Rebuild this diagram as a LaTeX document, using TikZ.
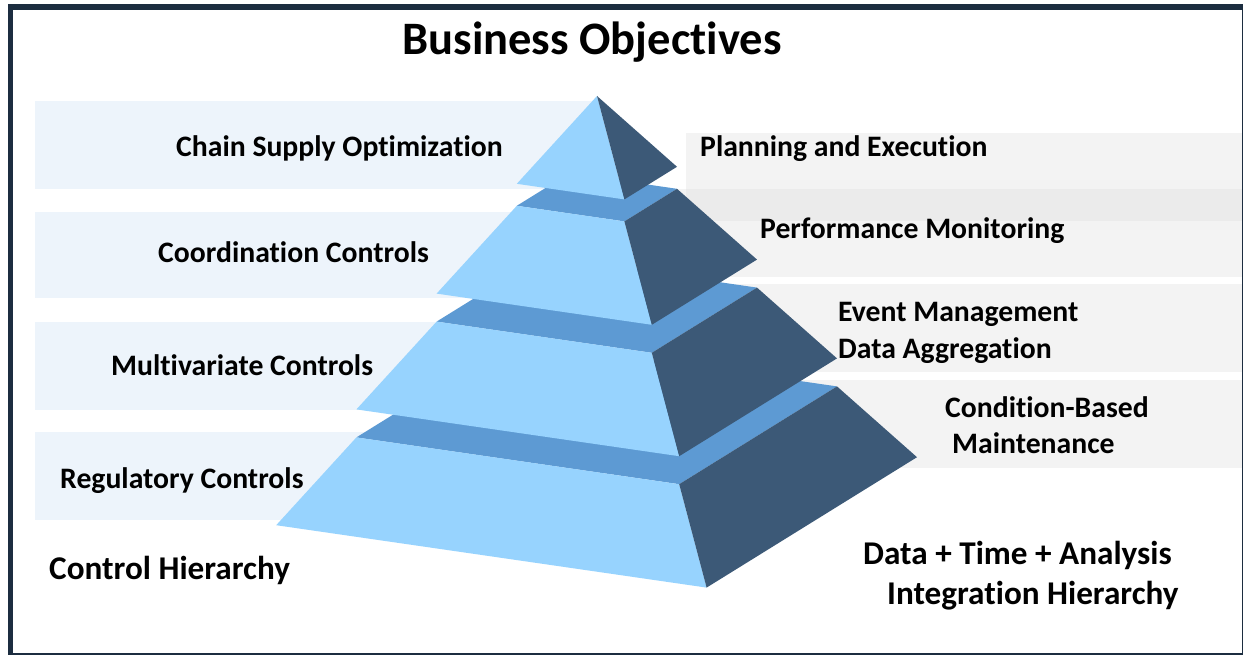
\documentclass[tikz,border=0pt]{standalone}
\usepackage{fontspec}
\setmainfont{Carlito}[Ligatures=NoCommon]
\definecolor{frameNavy}{HTML}{1C2D40}
\definecolor{faceFront}{HTML}{97D3FE}
\definecolor{faceSide}{HTML}{3C5977}
\definecolor{faceLedge}{HTML}{5D9AD3}
\definecolor{bandBlue}{HTML}{EDF4FB}
\definecolor{bandGray}{HTML}{F3F3F3}
\definecolor{bandOverlap}{HTML}{EBEBEB}
\begin{document}
\begin{tikzpicture}[x=1pt,y=-1pt,
  lbl/.style={inner sep=0pt, anchor=base west, font=\fontsize{29.7}{30}\selectfont\bfseries},
  biglbl/.style={lbl, font=\fontsize{33.2}{34}\selectfont\bfseries},
  ttl/.style={inner sep=0pt, anchor=base, font=\fontsize{46.5}{47}\selectfont\bfseries},
  front/.style={fill=faceFront},
  side/.style={fill=faceSide},
  ledge/.style={fill=faceLedge}]
\useasboundingbox (0,0) rectangle (1243,655);

% frame
\fill[frameNavy] (8,4) rectangle (1243,655);
\fill[white] (13,10) rectangle (1241.5,652.5);

% background bands, left column
\fill[bandBlue] (35,101) rectangle (600,189);
\fill[bandBlue] (35,212) rectangle (600,298);
\fill[bandBlue] (35,322) rectangle (600,410);
\fill[bandBlue] (35,432) rectangle (600,520);

% background bands, right column
\fill[bandGray] (686,133) rectangle (1241.5,221);
\fill[bandGray] (620,189) rectangle (1241.5,277);
\fill[bandOverlap] (686,189) rectangle (1241.5,221);
\fill[bandGray] (620,284) rectangle (1241.5,372);
\fill[bandGray] (620,380) rectangle (1241.5,468);

% pyramid, drawn from the bottom tier upwards
% tier 4
\fill[ledge] (356.4,437.4) -- (679.2,484.2) -- (837,386.4) -- (514.2,339.6) -- cycle;
\fill[front] (356.4,437.4) -- (679.2,484.2) -- (706.6,587.6) -- (276.2,525.2) -- cycle;
\fill[side]  (679.2,484.2) -- (837,386.4) -- (917,457.2) -- (706.6,587.6) -- cycle;
% tier 3
\fill[ledge] (436.6,321.6) -- (651.8,352.8) -- (757,287.6) -- (541.8,256.4) -- cycle;
\fill[front] (436.6,321.6) -- (651.8,352.8) -- (679.2,456.2) -- (356.4,409.4) -- cycle;
\fill[side]  (651.8,352.8) -- (757,287.6) -- (837,358.4) -- (679.2,456.2) -- cycle;
% tier 2
\fill[ledge] (516.8,205.8) -- (624.4,221.4) -- (677,188.8) -- (569.4,173.2) -- cycle;
\fill[front] (516.8,205.8) -- (624.4,221.4) -- (651.8,324.8) -- (436.6,293.6) -- cycle;
\fill[side]  (624.4,221.4) -- (677,188.8) -- (757,259.6) -- (651.8,324.8) -- cycle;
% tier 1 (apex)
\fill[front] (597,96) -- (624.4,199.4) -- (516.8,183.8) -- cycle;
\fill[side]  (597,96) -- (677,166.8) -- (624.4,199.4) -- cycle;

% title
\node[ttl] (title) at (592,55) {Business Objectives};

% left labels
\node[lbl] (chain) at (176,157) {Chain Supply Optimization};
\node[lbl] (coord) at (158,262) {Coordination Controls};
\node[lbl] (multi) at (111,375) {Multivariate Controls};
\node[lbl] (regul) at (60,488) {Regulatory Controls};
\node[biglbl] (ctrlh) at (49,579) {Control Hierarchy};

% right labels
\node[lbl] (plan)  at (700,157) {Planning and Execution};
\node[lbl] (perf)  at (760,239) {Performance Monitoring};
\node[lbl] (event) at (838,322) {Event Management};
\node[lbl] (aggr)  at (838,358) {Data Aggregation};
\node[lbl] (cond)  at (945,417) {Condition-Based};
\node[lbl] (maint) at (952,453) {Maintenance};
\node[biglbl] (dta)   at (863,564) {Data + Time + Analysis};
\node[biglbl] (integ) at (887,604) {Integration Hierarchy};
\end{tikzpicture}
\end{document}
